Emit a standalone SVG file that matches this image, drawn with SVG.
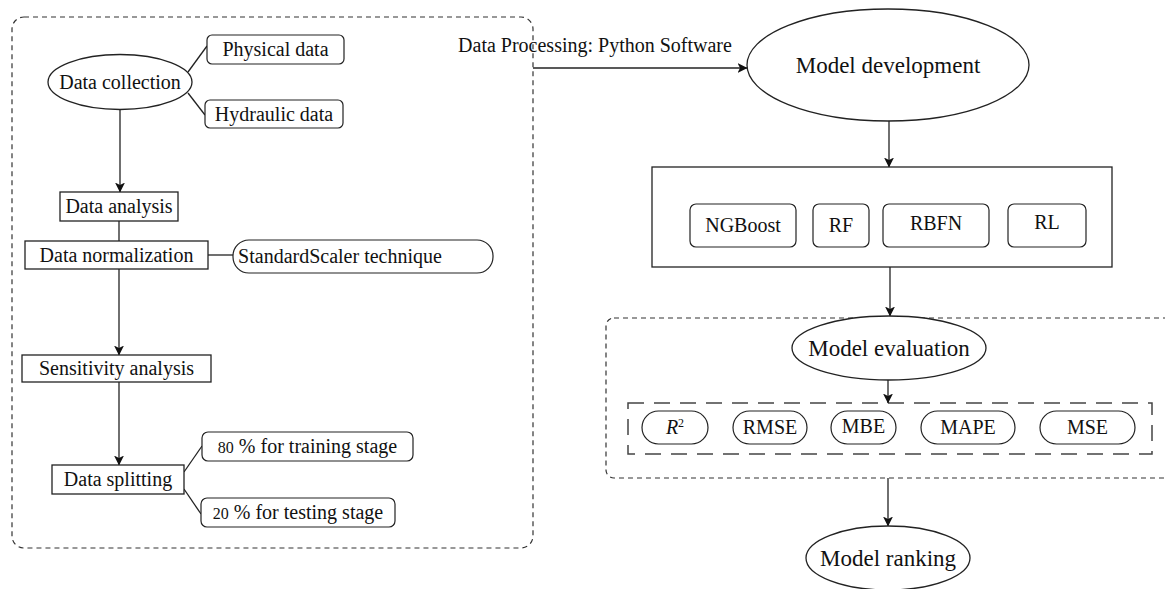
<svg xmlns="http://www.w3.org/2000/svg" width="1165" height="589" viewBox="0 0 1165 589">
  <style>
    .t { font-family: "Liberation Serif", "Times New Roman", serif; font-size: 20px; fill: #111; text-anchor: middle; }
    .big { font-size: 23px; }
    .box { fill: #fff; stroke: #222; stroke-width: 1.3; }
    .pill { fill: #fff; stroke: #222; stroke-width: 1.2; }
    .link { fill: none; stroke: #222; stroke-width: 1.3; }
    .arrow { fill: none; stroke: #222; stroke-width: 1.3; marker-end: url(#head); }
    .frame { fill: none; stroke: #333; stroke-width: 1.2; stroke-dasharray: 5 4; }
    .inner { fill: none; stroke: #444; stroke-width: 1.5; stroke-dasharray: 16 10; }
  </style>
  <defs>
    <marker id="head" viewBox="0 0 10 10" refX="9.5" refY="5" markerWidth="10" markerHeight="10" markerUnits="userSpaceOnUse" orient="auto">
      <path d="M0,0 L10,5 L0,10 L2.5,5 Z" fill="#111"/>
    </marker>
  </defs>

  <rect width="1165" height="589" fill="#fff"/>

  <!-- Group frames -->
  <g id="frames">
    <rect class="frame" x="12" y="17" width="521" height="531" rx="12"/>
    <rect class="frame" x="606" y="318" width="580" height="160" rx="8"/>
    <rect class="inner" x="628" y="403" width="524" height="51"/>
  </g>

  <!-- Connectors -->
  <g id="connectors">
    <line class="link" x1="188" y1="72" x2="207" y2="46"/>
    <line class="link" x1="188" y1="93" x2="205" y2="115"/>
    <line class="arrow" x1="120" y1="110" x2="120" y2="192"/>
    <line class="link" x1="119" y1="221" x2="119" y2="241"/>
    <line class="link" x1="208" y1="255" x2="233" y2="255"/>
    <line class="arrow" x1="119" y1="269" x2="119" y2="355"/>
    <line class="arrow" x1="119" y1="382" x2="119" y2="465"/>
    <line class="link" x1="184" y1="472" x2="202" y2="446"/>
    <line class="link" x1="184" y1="489" x2="201" y2="514"/>
    <line class="arrow" x1="533" y1="68" x2="747" y2="68"/>
    <line class="arrow" x1="889" y1="121" x2="889" y2="167"/>
    <line class="arrow" x1="890" y1="267" x2="890" y2="316"/>
    <line class="arrow" x1="888" y1="380" x2="888" y2="403"/>
    <line class="arrow" x1="888" y1="478" x2="888" y2="526"/>
  </g>

  <!-- Data preparation steps -->
  <g id="data-collection">
    <ellipse class="box" cx="120" cy="82" rx="72" ry="27.5"/>
    <text class="t" x="120" y="89">Data collection</text>
  </g>
  <g id="physical-data">
    <rect class="pill" x="207" y="35" width="137" height="29" rx="5"/>
    <text class="t" x="275.5" y="56">Physical data</text>
  </g>
  <g id="hydraulic-data">
    <rect class="pill" x="205" y="100" width="138" height="28" rx="5"/>
    <text class="t" x="274" y="121">Hydraulic data</text>
  </g>
  <g id="data-analysis">
    <rect class="box" x="60" y="192" width="118" height="29"/>
    <text class="t" x="119" y="213">Data analysis</text>
  </g>
  <g id="data-normalization">
    <rect class="box" x="25" y="241" width="183" height="28"/>
    <text class="t" x="116.5" y="262">Data normalization</text>
  </g>
  <g id="standard-scaler">
    <rect class="pill" x="233" y="240" width="260" height="33" rx="16"/>
    <text class="t" x="340" y="263">StandardScaler technique</text>
  </g>
  <g id="sensitivity-analysis">
    <rect class="box" x="22" y="355" width="189" height="27"/>
    <text class="t" x="116.5" y="375">Sensitivity analysis</text>
  </g>
  <g id="data-splitting">
    <rect class="box" x="52" y="465" width="132" height="29"/>
    <text class="t" x="118" y="486">Data splitting</text>
  </g>
  <g id="training-split">
    <rect class="pill" x="202" y="432" width="211" height="29" rx="6"/>
    <text class="t" x="307.5" y="453"><tspan font-size="16">80</tspan> % for training stage</text>
  </g>
  <g id="testing-split">
    <rect class="pill" x="201" y="498" width="194" height="29" rx="6"/>
    <text class="t" x="298" y="519"><tspan font-size="16">20</tspan> % for testing stage</text>
  </g>

  <g id="processing-label">
    <text class="t" x="595" y="52">Data Processing: Python Software</text>
  </g>

  <!-- Modelling steps -->
  <g id="model-development">
    <ellipse class="box" cx="888" cy="65" rx="141" ry="56"/>
    <text class="t big" x="888" y="73">Model development</text>
  </g>
  <g id="models">
    <rect class="box" x="652" y="167" width="460" height="100"/>
    <rect class="pill" x="690" y="204" width="106" height="43" rx="6"/>
    <text class="t" x="743" y="232">NGBoost</text>
    <rect class="pill" x="813" y="204" width="56" height="43" rx="6"/>
    <text class="t" x="841" y="232">RF</text>
    <rect class="pill" x="883" y="204" width="106" height="43" rx="6"/>
    <text class="t" x="936" y="230">RBFN</text>
    <rect class="pill" x="1008" y="204" width="78" height="43" rx="6"/>
    <text class="t" x="1047" y="229">RL</text>
  </g>
  <g id="model-evaluation">
    <ellipse class="box" cx="889" cy="348" rx="97" ry="32"/>
    <text class="t big" x="889" y="356">Model evaluation</text>
  </g>
  <g id="metrics">
    <rect class="pill" x="642" y="411" width="66" height="33" rx="16.5"/>
    <text class="t" x="675" y="434"><tspan font-style="italic">R</tspan><tspan font-size="12" dy="-7">2</tspan></text>
    <rect class="pill" x="733" y="411" width="74" height="33" rx="16.5"/>
    <text class="t" x="770" y="434">RMSE</text>
    <rect class="pill" x="831" y="411" width="65" height="33" rx="16.5"/>
    <text class="t" x="863.5" y="433">MBE</text>
    <rect class="pill" x="921" y="411" width="94" height="33" rx="16.5"/>
    <text class="t" x="968" y="434">MAPE</text>
    <rect class="pill" x="1040" y="411" width="95" height="33" rx="16.5"/>
    <text class="t" x="1087.5" y="434">MSE</text>
  </g>
  <g id="model-ranking">
    <ellipse class="box" cx="888" cy="558" rx="82" ry="32"/>
    <text class="t big" x="888" y="566">Model ranking</text>
  </g>
</svg>
